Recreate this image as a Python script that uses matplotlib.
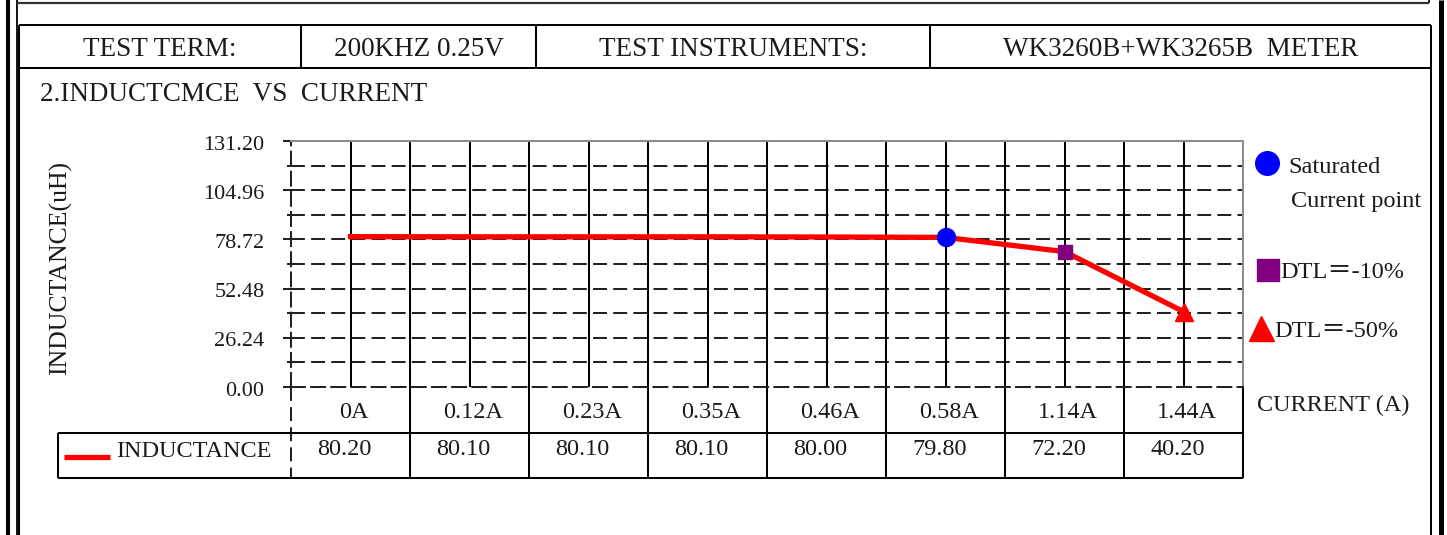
import matplotlib
matplotlib.use('Agg')
import matplotlib.pyplot as plt
from matplotlib.transforms import blended_transform_factory, ScaledTranslation
import numpy as np

plt.rcParams['font.family'] = ['Liberation Serif', 'Noto Sans CJK TC', 'DejaVu Sans']
plt.rcParams['lines.scale_dashes'] = False

# ---------------- data ----------------
categories = ['0A', '0.12A', '0.23A', '0.35A', '0.46A', '0.58A', '1.14A', '1.44A']
inductance = [80.20, 80.10, 80.10, 80.10, 80.00, 79.80, 72.20, 40.20]
y_max = 131.20
y_step = 26.24
header_cells = ['TEST TERM:', '200KHZ 0.25V', 'TEST INSTRUMENTS:', 'WK3260B+WK3265B  METER']
title = '2.INDUCTCMCE  VS  CURRENT'
y_label = 'INDUCTANCE(uH)'
x_label = 'CURRENT (A)'
series_name = 'INDUCTANCE'
saturated_idx = 5
dtl10_idx = 6
dtl50_idx = 7
legend_saturated = ['Saturated', 'Current point']
legend_dtl10 = 'DTL＝-10%'
legend_dtl50 = 'DTL＝-50%'

# ---------------- figure ----------------
W, H = 1447, 535
fig = plt.figure(figsize=(W / 100, H / 100), dpi=100)
fig.patch.set_facecolor('white')

ov = fig.add_axes([0, 0, 1, 1])
ov.set_xlim(0, W)
ov.set_ylim(H, 0)
ov.axis('off')

TXT = '#1a1a1a'
LW = 1.45  # ~2 px
DASH = (0, (10, 4.5))


def hline(y, x0, x1, lw=LW, color='black', ls='-'):
    ov.plot([x0, x1], [y, y], color=color, lw=lw, ls=ls, solid_capstyle='butt')


def vline(x, y0, y1, lw=LW, color='black', ls='-'):
    ov.plot([x, x], [y0, y1], color=color, lw=lw, ls=ls, solid_capstyle='butt')


# outer frame
vline(8, 0, H, lw=2.9)
vline(16.5, 0, H, lw=1.3)
vline(1440.5, 0, H, lw=3.6)
hline(2.5, 16.5, 1429, lw=1.6, color='#333333')
vline(1429, 0, 3, lw=1.2)

# report table box
vline(19, 25, H)
vline(1431, 25, H)
hline(25, 19, 1431)
hline(68, 19, 1431)
col_edges = [19, 301, 536, 930, 1431]
for x in col_edges[1:-1]:
    vline(x, 25, 68)
for i, s in enumerate(header_cells):
    ov.text((col_edges[i] + col_edges[i + 1]) / 2, 56, s, fontsize=19.5,
            ha='center', va='baseline', color=TXT)

ov.text(40, 101, title, fontsize=19.5, ha='left', va='baseline', color=TXT)
ov.text(60, 268, y_label, fontsize=18.5, rotation=90, ha='center', va='center', color=TXT)

# ---------------- plot axes ----------------
L, R, T, B = 291, 1243, 141, 387
ax = fig.add_axes([L / W, 1 - B / H, (R - L) / W, (B - T) / H])
ax.set_zorder(2)
ax.patch.set_alpha(0)
n = len(categories)
ax.set_xlim(-0.5, n - 0.5)
ax.set_ylim(0, y_max)

for sp in ['top', 'right']:
    ax.spines[sp].set_color('#8c8c8c')
    ax.spines[sp].set_linewidth(LW)
for sp in ['left', 'bottom']:
    ax.spines[sp].set_color('#222222')
    ax.spines[sp].set_linewidth(LW)
    ax.spines[sp].set_linestyle(DASH)

minor_step = y_step / 2
for k in range(1, int(round(y_max / minor_step))):
    ax.axhline(k * minor_step, color='#222222', lw=LW, ls=DASH, zorder=1)
for xv in np.arange(0, n - 0.5, 0.5):
    ax.axvline(xv, color='black', lw=LW, zorder=1)

major = np.arange(0, y_max + 1e-6, y_step)
ax.set_yticks(major)
ax.set_yticklabels([f'{v:.2f}' for v in major], fontsize=16, color=TXT)
ax.set_yticks(np.arange(minor_step, y_max, y_step), minor=True)
ax.tick_params(axis='y', which='major', direction='out', length=6, width=LW, pad=13, color='#222222')
ax.tick_params(axis='y', which='minor', direction='out', length=3, width=LW, color='#222222')
ax.set_xticks([])
off = ScaledTranslation(0, -1.5 / 100, fig.dpi_scale_trans)
for lab in ax.get_yticklabels():
    lab.set_transform(lab.get_transform() + off)

xs = np.arange(n)
ax.plot(xs, inductance, color='#ff0000', lw=3.8, zorder=3, solid_joinstyle='round')
ax.plot(xs[saturated_idx], inductance[saturated_idx], 'o', ms=13, color='#0000ff', zorder=4)
ax.plot(xs[dtl10_idx], inductance[dtl10_idx], 's', ms=10, color='#800080', zorder=4)
ax.plot(xs[dtl50_idx], inductance[dtl50_idx], '^', ms=13, color='#ff0000', zorder=4)

# ---------------- data table below ----------------
tr = blended_transform_factory(ax.transData, ov.transData)
vline(L, B, 478, color='#222222', ls=DASH)
for xv in np.arange(0.5, n, 1.0):
    ov.plot([xv, xv], [B, 478], color='black', lw=LW, transform=tr, solid_capstyle='butt')
hline(433, 58, R)
hline(478, 58, R)
vline(58, 433, 478)
for i, c in enumerate(categories):
    ov.text(xs[i] + 0.03, 418, c, fontsize=17.5, ha='center', va='baseline',
            color=TXT, transform=tr)
    ov.text(xs[i] - 0.05, 455, f'{inductance[i]:.2f}', fontsize=17.5, ha='center',
            va='baseline', color=TXT, transform=tr)
ov.plot([64, 110], [457, 457], color='#ff0000', lw=3.8, solid_capstyle='butt')
ov.text(116, 457, series_name, fontsize=17.5, ha='left', va='baseline', color=TXT)

# ---------------- right-side legend ----------------
ov.plot(1267, 163, 'o', ms=17, color='#0000ff')
ov.text(1288, 173, legend_saturated[0], fontsize=17.5, ha='left', va='baseline', color=TXT)
ov.text(1291, 207, legend_saturated[1], fontsize=17.5, ha='left', va='baseline', color=TXT)
ov.plot(1268, 270, 's', ms=16.5, color='#800080')
ov.text(1280, 278, legend_dtl10, fontsize=17.5, ha='left', va='baseline', color=TXT)
ov.plot(1261, 328, '^', ms=18, color='#ff0000')
ov.text(1274, 337, legend_dtl50, fontsize=17.5, ha='left', va='baseline', color=TXT)
ov.text(1257, 411, x_label, fontsize=17.5, ha='left', va='baseline', color=TXT)

fig.savefig('out.png', dpi=100, facecolor='white')
